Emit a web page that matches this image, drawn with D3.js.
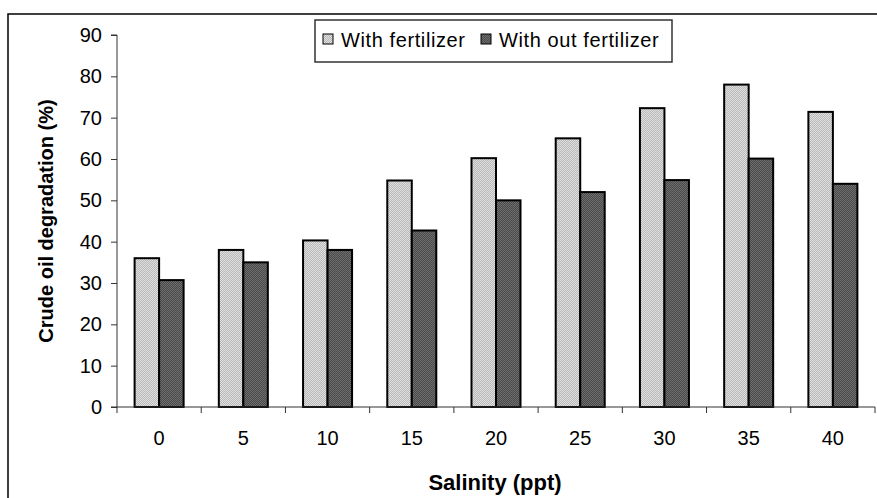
<!DOCTYPE html>
<html><head><meta charset="utf-8">
<script src="https://cdn.jsdelivr.net/npm/d3@7/dist/d3.min.js"></script>
<style>body{margin:0;background:#fff}svg{display:block}text{font-family:"Liberation Sans",Arial,sans-serif;fill:#000}</style>
</head><body><svg id="c" width="877" height="498"></svg>
<script>
const categories = ["0","5","10","15","20","25","30","35","40"];
const withFert = [36, 38, 40.3, 54.8, 60.2, 65, 72.3, 78, 71.4];
const withoutFert = [30.7, 35, 38, 42.7, 50, 52, 54.9, 60.1, 54];
const yTicks = [0,10,20,30,40,50,60,70,80,90];
const seriesNames = ["With fertilizer", "With out fertilizer"];

const svg = d3.select("#c");
const defs = svg.append("defs");
function pat(id, a, b){
  const p = defs.append("pattern").attr("id", id).attr("width", 2).attr("height", 2).attr("patternUnits","userSpaceOnUse");
  p.append("rect").attr("width",2).attr("height",2).attr("fill",a);
  p.append("rect").attr("width",1).attr("height",1).attr("fill",b);
  p.append("rect").attr("x",1).attr("y",1).attr("width",1).attr("height",1).attr("fill",b);
}
pat("pl", "#b8b8b8", "#e0e0e0");
pat("pd", "#4a4a4a", "#6e6e6e");

// frame
svg.append("path").attr("d","M8,498V14H877").attr("fill","none").attr("stroke","#000").attr("stroke-width",1.5);

const x0 = 117, x1 = 875, yb = 407, yt = 35;
const x = d3.scaleBand().domain(categories).range([x0, x1]);
const y = d3.scaleLinear().domain([0, 90]).range([yb, yt]);
const bw = 24.5;

const g = svg.append("g");
categories.forEach((c, i) => {
  const cx = x(c) + x.bandwidth()/2;
  g.append("rect").attr("x", cx - bw).attr("y", y(withFert[i])).attr("width", bw).attr("height", yb - y(withFert[i]))
    .attr("fill","url(#pl)").attr("stroke","#000").attr("stroke-width",2);
  g.append("rect").attr("x", cx).attr("y", y(withoutFert[i])).attr("width", bw).attr("height", yb - y(withoutFert[i]))
    .attr("fill","url(#pd)").attr("stroke","#000").attr("stroke-width",2);
});

// y axis
const ya = svg.append("g").attr("transform",`translate(${x0},0)`)
  .call(d3.axisLeft(y).tickValues(yTicks).tickSize(6).tickPadding(9));
ya.select(".domain").attr("stroke","#333").attr("d",`M-6,${yt}H0V${yb}`);
ya.selectAll(".tick line").attr("stroke","#333");
ya.selectAll("text").attr("font-size",20).attr("font-family","Liberation Sans, Arial, sans-serif").attr("fill","#000");

// x axis
const xa = svg.append("g").attr("transform",`translate(0,${yb})`);
xa.append("line").attr("x1",x0-6).attr("x2",x1).attr("stroke","#333");
const bounds = categories.map(c => x(c)).concat([x1]);
xa.selectAll("line.t").data(bounds).join("line").attr("class","t")
  .attr("x1",d=>d).attr("x2",d=>d).attr("y1",0).attr("y2",6).attr("stroke","#333");
xa.selectAll("text").data(categories).join("text")
  .attr("x", d => x(d) + x.bandwidth()/2).attr("y", 38).attr("text-anchor","middle").attr("font-size",20).text(d=>d);

// titles
svg.append("text").attr("x", 495).attr("y", 490).attr("text-anchor","middle").attr("font-size",22).attr("font-weight","bold").text("Salinity (ppt)");
svg.append("text").attr("transform","translate(53,221) rotate(-90)").attr("text-anchor","middle").attr("font-size",20).attr("font-weight","bold").text("Crude oil degradation (%)");

// legend
const lg = svg.append("g");
lg.append("rect").attr("x",315).attr("y",20).attr("width",357).attr("height",42).attr("fill","#fff").attr("stroke","#333").attr("stroke-width",1.5);
lg.append("rect").attr("x",323).attr("y",34).attr("width",10).attr("height",10).attr("fill","url(#pl)").attr("stroke","#000").attr("stroke-width",1);
lg.append("text").attr("x",341).attr("y",47).attr("font-size",20).attr("letter-spacing",0.6).text(seriesNames[0]);
lg.append("rect").attr("x",481).attr("y",34).attr("width",10).attr("height",10).attr("fill","url(#pd)").attr("stroke","#000").attr("stroke-width",1);
lg.append("text").attr("x",499).attr("y",47).attr("font-size",20).attr("letter-spacing",0.6).text(seriesNames[1]);
</script></body></html>
